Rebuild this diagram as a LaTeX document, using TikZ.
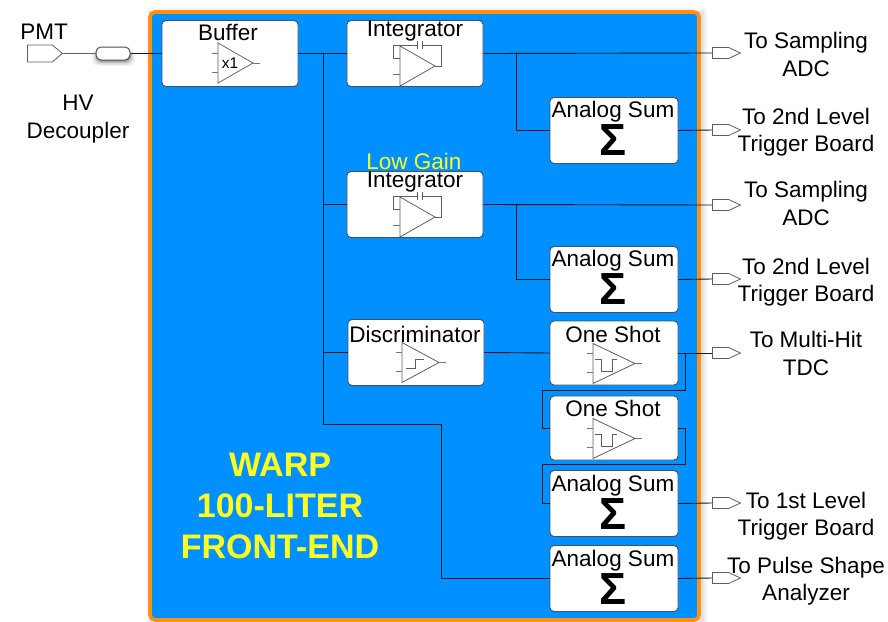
\documentclass[tikz,border=0pt]{standalone}
\usepackage{fontspec}
\setmainfont{Liberation Sans}
\usetikzlibrary{shapes.symbols}
\definecolor{panelblue}{HTML}{0090FF}
\definecolor{panelorange}{HTML}{FF9010}
\definecolor{edgegray}{HTML}{46505C}
\definecolor{symgray}{HTML}{5A5F66}
\definecolor{pinblue}{HTML}{66788C}
\definecolor{wire}{HTML}{101820}
\definecolor{warpyellow}{HTML}{FFFF20}
\tikzset{
  block/.style={draw=edgegray,line width=0.9pt,fill=white,rounded corners=4pt,minimum width=#1,minimum height=66pt,inner sep=0pt},
  block/.default=136pt,
  lbl/.style={inner sep=0pt,font=\fontsize{22.5}{27.2}\selectfont,align=center,text=black},
  title/.style={inner sep=0pt,font=\fontsize{34}{41}\selectfont\bfseries,text=warpyellow,align=center},
  sigmasym/.style={inner sep=0pt,font=\fontsize{45}{45}\selectfont\bfseries},
  port/.style={signal,signal to=east,signal pointer angle=50,draw=symgray,fill=white,line width=0.8pt,minimum width=28pt,minimum height=11pt,inner sep=0pt,anchor=west},
  wireline/.style={draw=wire,line width=0.9pt},
  sym/.style={draw=symgray,line width=0.8pt},
  pin/.style={draw=pinblue,line width=0.8pt},
  pics/opamp/.style={code={
    \draw[sym] (0,-20) -- (#1,0) -- (0,20) -- cycle;
    \draw[pin] (-6.5,-10) -- (0,-10) (-6.5,9) -- (0,9) (#1,0) -- (#1+7,0);
  }},
  pulsesym/.pic={
    \draw[sym] (2,-4.5) -- (8,-4.5) -- (8,8) -- (19,8) -- (19,-4.5) -- (24,-4.5);
  },
  integ/.pic={
    \draw[sym] (0,-20) -- (35,0) -- (0,20) -- cycle;
    \draw[pin] (-7,8) -- (0,8);
    \draw[sym] (0,-8) -- (-7,-8) -- (-7,-21) -- (17,-21);
    \draw[sym] (22,-21) -- (41,-21) -- (41,0) -- (35,0);
    \draw[sym] (17,-25) -- (17,-17) (22,-25) -- (22,-17);
  }
}
\begin{document}
\begin{tikzpicture}[x=1pt,y=-1pt]
\useasboundingbox (0,0) rectangle (888,621);
\fill[white] (0,0) rectangle (888,621);
% panel shadow and panel
\foreach \w in {12,9,6,4}
  \draw[black,opacity=0.03,line width=\w pt] (152,14) rectangle (701,625);
\draw[draw=panelorange,fill=panelblue,line width=3.6pt,rounded corners=5pt] (150,12) rectangle (699,620);
% blocks
\node[block] (buf) at (230,53.5) {};
\node[block] (int1) at (415,53.5) {};
\node[block=128pt] (sum1) at (614,130.5) {};
\node[block] (int2) at (415,204.5) {};
\node[block=128pt] (sum2) at (614,279.5) {};
\node[block] (disc) at (416,352.5) {};
\node[block=128pt,minimum height=64pt] (os1) at (614,353) {};
\node[block=128pt,minimum height=64pt] (os2) at (614,428) {};
\node[block=128pt] (sum3) at (614,503.5) {};
\node[block=128pt] (sum4) at (614,578.5) {};
% ports
\node[port,minimum width=35pt,minimum height=17pt,signal pointer angle=80] (pmt) at (27,53.5) {};
\node[port] (o1) at (712,53) {};
\node[port] (o2) at (712,130) {};
\node[port] (o3) at (712,205) {};
\node[port] (o4) at (712,279) {};
\node[port] (o5) at (712,353) {};
\node[port] (o6) at (712,503) {};
\node[port] (o7) at (712,578) {};
% junction coordinates
\coordinate (t1) at (323,53.5);
\coordinate (t2) at (323,424);
\coordinate (b1) at (516,53.5);
\coordinate (b2) at (516,204.5);
\coordinate (r1) at (685,353);
\coordinate (r2) at (685,428);
% decoupler
\foreach \d/\o in {5/0.05,3.5/0.08,2/0.12,1/0.16}
  \fill[black,opacity=\o,rounded corners=6pt] (97-\d,50) rectangle (130+\d,61+\d);
\node[draw=edgegray,line width=1pt,fill=white,rounded corners=5pt,minimum width=34pt,minimum height=13pt,inner sep=0pt] (hv) at (113,53.5) {};
% connectors
\draw[symgray,line width=0.9pt] (pmt.east) -- (hv.west);
\draw[wireline] (hv.east) -- (buf.west);
\draw[wireline] (buf.east) -- (int1.west);
\draw[wireline] (t1) -- (t2);
\draw[wireline] (t1 |- int2.west) -- (int2.west);
\draw[wireline] (t1 |- disc.west) -- (disc.west);
\draw[wireline] (t2) -| (441,578.5) -- (sum4.west);
\draw[wireline] (int1.east) -- (o1.west);
\draw[wireline] (b1) |- (sum1.west);
\draw[wireline] (sum1.east) -- (o2.west);
\draw[wireline] (int2.east) -- (o3.west);
\draw[wireline] (b2) |- (sum2.west);
\draw[wireline] (sum2.east) -- (o4.west);
\draw[wireline] (disc.east) -- (os1.west);
\draw[wireline] (os1.east) -- (o5.west);
\draw[wireline] (r1) |- (542,390) |- (os2.west);
\draw[wireline] (os2.east) -- (r2) |- (542,464) |- (sum3.west);
\draw[wireline] (sum3.east) -- (o6.west);
\draw[wireline] (sum4.east) -- (o7.west);
% symbols
\pic at (218,63) {opamp=35};
\node[inner sep=0pt,font=\fontsize{15.5}{15.5}\selectfont] (x1) at (230,63.5) {x1};
\pic at (400,66) {integ};
\pic at (400,217) {integ};
\pic at (402,362.5) {opamp=37};
\draw[sym] (406,368) -- (415,368) -- (415,359) -- (424,359);
\pic at (593,363.5) {opamp=42};
\pic at (593,363.5) {pulsesym};
\pic at (593,438.5) {opamp=42};
\pic at (593,438.5) {pulsesym};
% sums
\node[sigmasym] (s1) at (613,140) {Σ};
\node[sigmasym] (s2) at (613,289) {Σ};
\node[sigmasym] (s3) at (613,514) {Σ};
\node[sigmasym] (s4) at (613,589) {Σ};
% block labels
\node[lbl] (lbuf) at (228,32.5) {Buffer};
\node[lbl] (lint1) at (415,31.5) {Integrator};
\node[lbl] (lsum1) at (613,112) {Analog Sum};
\node[lbl,text=warpyellow] (lgain) at (414,161.5) {Low Gain};
\node[lbl] (lint2) at (415,182.5) {Integrator};
\node[lbl] (lsum2) at (613,261) {Analog Sum};
\node[lbl] (ldisc) at (415,334) {Discriminator};
\node[lbl] (los1) at (613,334) {One Shot};
\node[lbl] (los2) at (613,408) {One Shot};
\node[lbl] (lsum3) at (613,486) {Analog Sum};
\node[lbl] (lsum4) at (613,561) {Analog Sum};
% outside labels
\node[lbl] (lpmt) at (44,32) {PMT};
\node[lbl] (lhv) at (78,119) {HV\\Decoupler};
\node[lbl] (l1) at (806,54.5) {To Sampling\\ADC};
\node[lbl] (l2) at (806,132.5) {To 2nd Level\\Trigger Board};
\node[lbl] (l3) at (806,203.5) {To Sampling\\ADC};
\node[lbl] (l4) at (806,282.5) {To 2nd Level\\Trigger Board};
\node[lbl] (l5) at (806,353.5) {To Multi-Hit\\TDC};
\node[lbl] (l6) at (806,516) {To 1st Level\\Trigger Board};
\node[lbl] (l7) at (806,581.5) {To Pulse Shape\\Analyzer};
% title
\node[title] (warp) at (280,506) {WARP\\100-LITER\\FRONT-END};
\end{tikzpicture}
\end{document}
